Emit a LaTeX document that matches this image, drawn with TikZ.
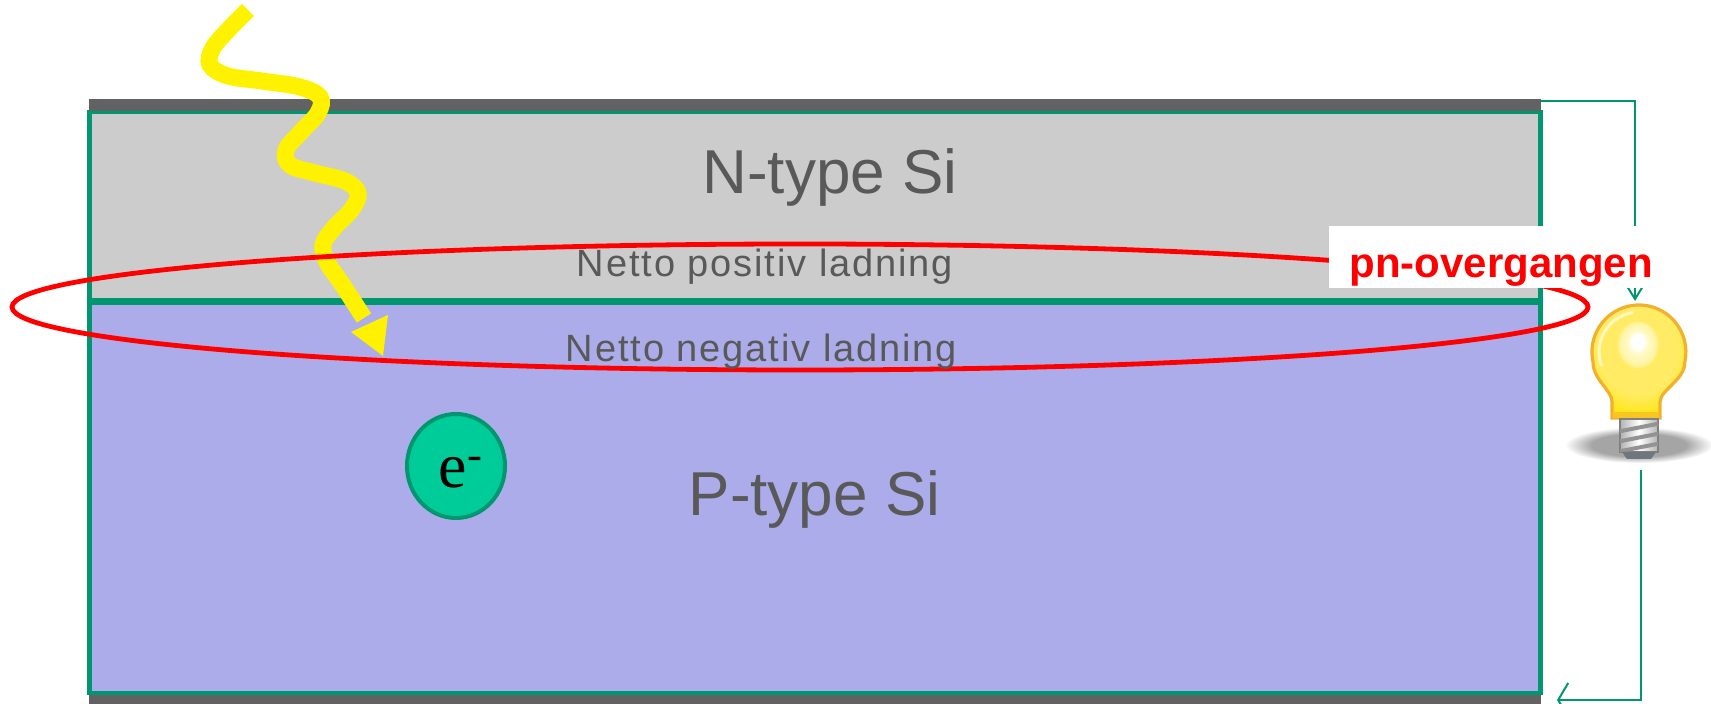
\documentclass[tikz,border=0pt]{standalone}
\usepackage{fontspec}
\setmainfont{Liberation Sans}
\newfontfamily\elfont{Liberation Serif}
\usetikzlibrary{arrows.meta,shapes.geometric}

\definecolor{ngray}{RGB}{204,204,204}
\definecolor{pblue}{RGB}{172,172,234}
\definecolor{edgegreen}{RGB}{0,150,112}
\definecolor{contact}{RGB}{98,98,98}
\definecolor{labelgray}{RGB}{89,89,89}
\definecolor{electronfill}{RGB}{0,204,153}
\definecolor{glassedge}{RGB}{242,176,44}
\definecolor{glasspale}{RGB}{255,250,200}
\definecolor{glasslight}{RGB}{255,244,165}
\definecolor{glassmid}{RGB}{255,236,100}
\definecolor{glassdeep}{RGB}{255,230,20}
\definecolor{shadowgray}{RGB}{165,165,165}
\definecolor{capgray}{RGB}{110,118,126}

% glass of the lamp: bright core slightly above the middle
\pgfdeclareradialshading{bulbglass}{\pgfpoint{0bp}{8.6bp}}{%
  color(0bp)=(white); color(3bp)=(white); color(5bp)=(glasspale);
  color(9bp)=(glasslight); color(10.5bp)=(glassmid); color(20bp)=(glassmid);
  color(28bp)=(glassdeep); color(50bp)=(glassdeep)}
% soft floor shadow under the lamp
\pgfdeclareradialshading{bulbshadow}{\pgfpoint{0bp}{0bp}}{%
  color(0bp)=(shadowgray); color(16bp)=(shadowgray); color(25bp)=(white);
  color(50bp)=(white)}

\begin{document}
\begin{tikzpicture}[x=0.5pt,y=-0.5pt,
  region/.style={draw=edgegreen, line width=2.3pt},
  bigtext/.style={text=labelgray, font=\fontsize{31}{31}\selectfont, inner sep=0pt, anchor=base},
  smalltext/.style={text=labelgray, font=\fontsize{19}{19}\selectfont\addfontfeature{LetterSpace=5}, inner sep=0pt, anchor=base},
  wire/.style={draw=edgegreen, line width=1pt},
  ray/.style={draw=yellow, line width=8.5pt},
  junction/.style={draw=red, line width=2.4pt},
  tag/.style={fill=white, inner sep=0pt, minimum width=172pt, text height=26pt, text depth=5pt,
    anchor=base, text=red, font=\fontsize{21}{21}\selectfont\bfseries},
  electron/.style={ellipse, draw=edgegreen, fill=electronfill, line width=2pt,
    minimum width=49pt, minimum height=52pt, inner sep=0pt},
]
\useasboundingbox (0,0) rectangle (1711,704);

% semiconductor layers
\draw[region, fill=ngray] (89.5,112) rectangle (1540.5,300);
\draw[region, fill=pblue] (89.5,302.5) rectangle (1540.5,693);

% metal contacts
\fill[contact] (89,99) rectangle (1541,111.5);
\fill[contact] (89,695) rectangle (1541,712);

% incoming light
\draw[ray] plot[smooth, tension=0.6] coordinates {
  (248,10) (230,28) (213,48) (210,65) (228,76) (262,81) (300,87) (320,97)
  (318,113) (300,133) (286,150) (290,165) (315,173) (345,181) (358,193)
  (352,209) (333,229) (323,245) (327,262) (342,284) (364,318)};
\fill[yellow] (383,356) -- (351,332) -- (388,315) -- cycle;

% depletion zone
\draw[junction] (800,307) ellipse [x radius=788, y radius=63];

% layer labels
\node[bigtext] (ntext) at (830,194) {N-type Si};
\node[bigtext] (ptext) at (814.5,516) {P-type Si};
\node[smalltext] (pos) at (765,277) {Netto positiv ladning};
\node[smalltext] (neg) at (761.5,362) {Netto negativ ladning};

% external circuit
\coordinate (topcontact) at (1541,101);
\coordinate (wirecorner) at (1635,101);
\coordinate (bulbin) at (1635,301);
\coordinate (bulbout) at (1641,470);
\coordinate (wirebottom) at (1641,700);
\coordinate (bottomcontact) at (1557,700);
\draw[wire, -{Straight Barb[length=6.5pt,width=8pt]}] (topcontact) -- (wirecorner) -- (bulbin);
\draw[wire, -{Straight Barb[length=5pt,width=17pt]}] (bulbout) -- (wirebottom) -- (bottomcontact);

\node[tag] (pn) at (1501,278) {pn-overgangen};

% lamp
\shade[shading=bulbshadow] (1639,445) ellipse [x radius=74, y radius=18];
\path[shading=bulbglass, shade, draw=glassedge, line width=1.6pt]
  (1612,418) -- (1612,402) .. controls (1612,390) and (1593,380) .. (1593,362)
  arc[start angle=167.7, end angle=372.3, radius=47]
  .. controls (1685,380) and (1660,390) .. (1660,402) -- (1660,418) -- cycle;
\fill[glassedge!60!glassdeep] (1613,412) rectangle (1659,418);
\draw[white, opacity=0.6, line width=1.5pt] (1601.4,365.7) arc[start angle=160, end angle=262, radius=40];
\shade[left color=gray!60, right color=gray!60, middle color=white, draw=gray, line width=0.75pt]
  (1620,419) rectangle (1658,452);
\begin{scope}
  \clip (1620,419) rectangle (1658,452);
  \foreach \y in {429,439,449}
    \draw[gray!85, line width=2pt] (1616,\y+3) -- (1662,\y-6);
\end{scope}
\fill[capgray] (1622,452) -- (1656,452) -- (1651,459) -- (1627,459) -- cycle;

% free electron
\node[electron] (el) at (456,466) {};
\node[anchor=base, inner sep=0pt, font=\elfont\fontsize{32}{32}\selectfont] (eltext) at (461,488) {e\textsuperscript{-}};
\end{tikzpicture}
\end{document}
